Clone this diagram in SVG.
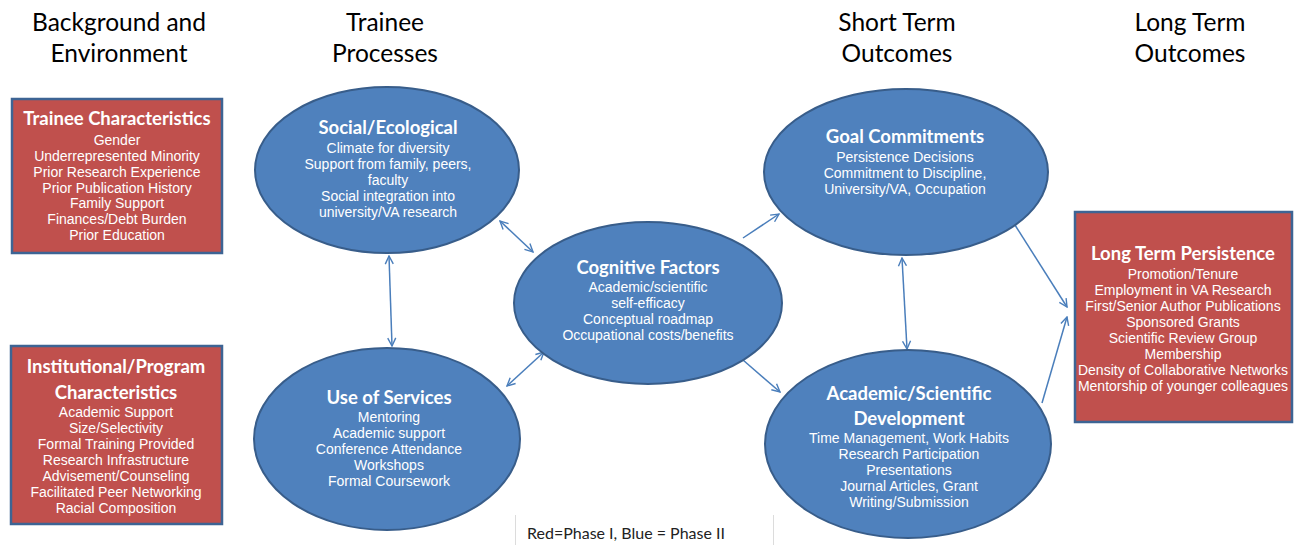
<svg xmlns="http://www.w3.org/2000/svg" width="1294" height="545" viewBox="0 0 1294 545">
  <style>
    .hdr { font-family: Lato, "Liberation Sans", sans-serif; font-size: 24.5px; fill: #000; text-anchor: middle; }
    .ttl { font-family: Lato, "Liberation Sans", sans-serif; font-weight: bold; font-size: 18.5px; fill: #fff; text-anchor: middle; }
    .bd { font-family: "Liberation Sans", Arial, sans-serif; font-size: 14px; fill: #fff; text-anchor: middle; }
    .box { fill: #c0504d; stroke: #3d6494; stroke-width: 2.5; }
    .oval { fill: #4f81bd; stroke: #385d8a; stroke-width: 2; }
    .link { fill: none; stroke: #4a7ebb; stroke-width: 1.5; }
    .legend { font-family: Lato, "Liberation Sans", sans-serif; font-size: 16px; fill: #222; }
  </style>
  <defs>
    <marker id="head" viewBox="0 0 10 10" refX="9" refY="5" markerWidth="10" markerHeight="10" markerUnits="userSpaceOnUse" orient="auto-start-reverse">
      <path d="M1,1 L9,5 L1,9" fill="none" stroke="#4a7ebb" stroke-width="1.4"/>
    </marker>
  </defs>
  <rect width="1294" height="545" fill="#fff"/>

  <!-- column headings -->
  <g id="headings">
    <text class="hdr" x="119" y="31">Background and</text>
    <text class="hdr" x="119" y="62">Environment</text>
    <text class="hdr" x="385" y="31">Trainee</text>
    <text class="hdr" x="385" y="62">Processes</text>
    <text class="hdr" x="897" y="31">Short Term</text>
    <text class="hdr" x="897" y="62">Outcomes</text>
    <text class="hdr" x="1190" y="31">Long Term</text>
    <text class="hdr" x="1190" y="62">Outcomes</text>
  </g>

  <!-- connectors -->
  <g id="connectors">
    <line class="link" x1="389" y1="256" x2="392" y2="346" marker-start="url(#head)" marker-end="url(#head)"/>
    <line class="link" x1="500" y1="221" x2="533" y2="252" marker-start="url(#head)" marker-end="url(#head)"/>
    <line class="link" x1="507" y1="386" x2="544" y2="352" marker-start="url(#head)" marker-end="url(#head)"/>
    <line class="link" x1="743" y1="238" x2="779" y2="214" marker-end="url(#head)"/>
    <line class="link" x1="743" y1="360" x2="780" y2="392" marker-end="url(#head)"/>
    <line class="link" x1="902" y1="258" x2="907" y2="349" marker-start="url(#head)" marker-end="url(#head)"/>
    <line class="link" x1="1015" y1="225" x2="1067" y2="307" marker-end="url(#head)"/>
    <line class="link" x1="1042" y1="403" x2="1067" y2="317" marker-end="url(#head)"/>
  </g>

  <g id="trainee-characteristics">
    <rect class="box" x="12" y="99" width="210" height="154"/>
    <text class="ttl" x="117" y="125">Trainee Characteristics</text>
    <text class="bd" x="117" y="145">Gender</text>
    <text class="bd" x="117" y="161">Underrepresented Minority</text>
    <text class="bd" x="117" y="177">Prior Research Experience</text>
    <text class="bd" x="117" y="193">Prior Publication History</text>
    <text class="bd" x="117" y="208">Family Support</text>
    <text class="bd" x="117" y="224">Finances/Debt Burden</text>
    <text class="bd" x="117" y="240">Prior Education</text>
  </g>

  <g id="institutional-characteristics">
    <rect class="box" x="11" y="346" width="211" height="178"/>
    <text class="ttl" x="116" y="373">Institutional/Program</text>
    <text class="ttl" x="116" y="399">Characteristics</text>
    <text class="bd" x="116" y="417">Academic Support</text>
    <text class="bd" x="116" y="433">Size/Selectivity</text>
    <text class="bd" x="116" y="449">Formal Training Provided</text>
    <text class="bd" x="116" y="465">Research Infrastructure</text>
    <text class="bd" x="116" y="481">Advisement/Counseling</text>
    <text class="bd" x="116" y="497">Facilitated Peer Networking</text>
    <text class="bd" x="116" y="513">Racial Composition</text>
  </g>

  <g id="social-ecological">
    <ellipse class="oval" cx="387" cy="170" rx="132" ry="83"/>
    <text class="ttl" x="388" y="134">Social/Ecological</text>
    <text class="bd" x="388" y="153">Climate for diversity</text>
    <text class="bd" x="388" y="169">Support from family, peers,</text>
    <text class="bd" x="388" y="185">faculty</text>
    <text class="bd" x="388" y="201">Social integration into</text>
    <text class="bd" x="388" y="217">university/VA research</text>
  </g>

  <g id="use-of-services">
    <ellipse class="oval" cx="387" cy="439" rx="133" ry="91"/>
    <text class="ttl" x="389" y="404">Use of Services</text>
    <text class="bd" x="389" y="422">Mentoring</text>
    <text class="bd" x="389" y="438">Academic support</text>
    <text class="bd" x="389" y="454">Conference Attendance</text>
    <text class="bd" x="389" y="470">Workshops</text>
    <text class="bd" x="389" y="486">Formal Coursework</text>
  </g>

  <g id="cognitive-factors">
    <ellipse class="oval" cx="648" cy="303" rx="134" ry="81"/>
    <text class="ttl" x="648" y="274">Cognitive Factors</text>
    <text class="bd" x="648" y="292">Academic/scientific</text>
    <text class="bd" x="648" y="308">self-efficacy</text>
    <text class="bd" x="648" y="324">Conceptual roadmap</text>
    <text class="bd" x="648" y="340">Occupational costs/benefits</text>
  </g>

  <g id="goal-commitments">
    <ellipse class="oval" cx="906" cy="172" rx="142" ry="83"/>
    <text class="ttl" x="905" y="143">Goal Commitments</text>
    <text class="bd" x="905" y="162">Persistence Decisions</text>
    <text class="bd" x="905" y="178">Commitment to Discipline,</text>
    <text class="bd" x="905" y="194">University/VA, Occupation</text>
  </g>

  <g id="academic-development">
    <ellipse class="oval" cx="908" cy="444" rx="143" ry="94"/>
    <text class="ttl" x="909" y="400">Academic/Scientific</text>
    <text class="ttl" x="909" y="425">Development</text>
    <text class="bd" x="909" y="443">Time Management, Work Habits</text>
    <text class="bd" x="909" y="459">Research Participation</text>
    <text class="bd" x="909" y="475">Presentations</text>
    <text class="bd" x="909" y="491">Journal Articles, Grant</text>
    <text class="bd" x="909" y="507">Writing/Submission</text>
  </g>

  <g id="long-term-persistence">
    <rect class="box" x="1075" y="212" width="217" height="210"/>
    <text class="ttl" x="1183" y="260">Long Term Persistence</text>
    <text class="bd" x="1183" y="279">Promotion/Tenure</text>
    <text class="bd" x="1183" y="295">Employment in VA Research</text>
    <text class="bd" x="1183" y="311">First/Senior Author Publications</text>
    <text class="bd" x="1183" y="327">Sponsored Grants</text>
    <text class="bd" x="1183" y="343">Scientific Review Group</text>
    <text class="bd" x="1183" y="359">Membership</text>
    <text class="bd" x="1183" y="375">Density of Collaborative Networks</text>
    <text class="bd" x="1183" y="391">Mentorship of younger colleagues</text>
  </g>

  <g id="legend">
    <line x1="515.5" y1="515" x2="515.5" y2="545" stroke="#dcdcdc" stroke-width="1"/>
    <line x1="773.5" y1="515" x2="773.5" y2="545" stroke="#dcdcdc" stroke-width="1"/>
    <text class="legend" x="527" y="539">Red=Phase I, Blue = Phase II</text>
  </g>
</svg>
